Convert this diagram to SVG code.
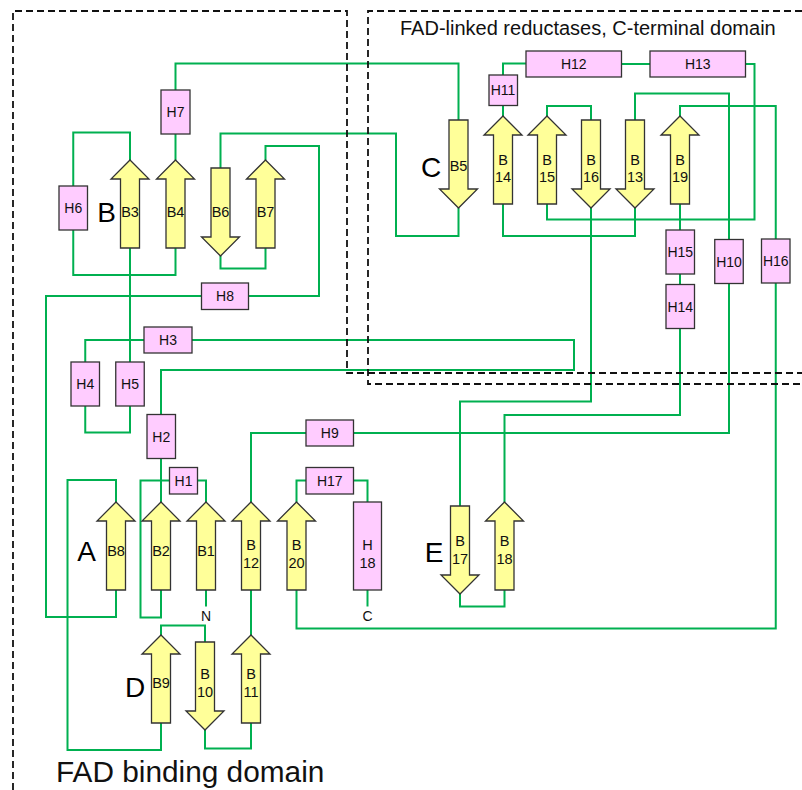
<svg xmlns="http://www.w3.org/2000/svg" xmlns:xlink="http://www.w3.org/1999/xlink" width="802" height="790" viewBox="0 0 802 790">
  <style>
    .bg { fill: #ffffff; }
    .link { fill: none; stroke: #00b050; stroke-width: 2; stroke-linejoin: miter; }
    .strand { fill: #ffff99; stroke: #333333; stroke-width: 1.3; }
    .helix { fill: #ffccff; stroke: #333333; stroke-width: 1.3; }
    .lbl { font-family: "Liberation Sans", Arial, sans-serif; font-size: 14px; fill: #111111; text-anchor: middle; }
    .slbl { font-family: "Liberation Sans", Arial, sans-serif; font-size: 14.5px; fill: #111111; text-anchor: middle; }
    .sheet { font-family: "Liberation Sans", Arial, sans-serif; font-size: 28px; fill: #000000; text-anchor: middle; }
    .domain { font-family: "Liberation Sans", Arial, sans-serif; fill: #111111; }
    .dash { fill: none; stroke: #111111; stroke-width: 1.8; stroke-dasharray: 7 4; }
  </style>
  <defs>
    <!-- strand arrows, origin at the tip (up) or at the flat end (down) -->
    <path id="up" d="M0,0 L19,19 L9.5,19 L9.5,88 L-9.5,88 L-9.5,19 L-19,19 Z"/>
    <path id="down" d="M-9.5,0 L9.5,0 L9.5,69 L19,69 L0,88 L-19,69 L-9.5,69 Z"/>
  </defs>

  <rect class="bg" x="0" y="0" width="802" height="790"/>

  <!-- loops between secondary-structure elements -->
  <g id="connectors">
    <polyline class="link" points="130,160 130,132.5 73.25,132.5 73.25,186"/>
    <polyline class="link" points="73.25,230 73.25,275 175.5,275 175.5,248"/>
    <polyline class="link" points="130,248 130,362"/>
    <polyline class="link" points="175.5,160 175.5,134"/>
    <polyline class="link" points="175.5,90 175.5,63.5 458.5,63.5 458.5,120"/>
    <polyline class="link" points="458.5,208 458.5,236 396,236 396,133.5 220.5,133.5 220.5,168"/>
    <polyline class="link" points="220.5,256 220.5,268.5 265.5,268.5 265.5,248"/>
    <polyline class="link" points="265.5,160 265.5,146 319,146 319,296 248.5,296"/>
    <polyline class="link" points="201.5,296 46,296 46,617 116,617 116,590"/>
    <polyline class="link" points="116,502 116,480 67.5,480 67.5,750 161,750 161,723"/>
    <polyline class="link" points="161,635 161,625.5 205,625.5 205,642"/>
    <polyline class="link" points="205,730 205,748.5 251,748.5 251,723"/>
    <polyline class="link" points="251,635 251,590"/>
    <polyline class="link" points="251,502 251,433 306,433"/>
    <polyline class="link" points="353.5,433 729,433 729,283.5"/>
    <polyline class="link" points="729,239.5 729,93.5 635,93.5 635,120"/>
    <polyline class="link" points="635,208 635,236 503,236 503,204"/>
    <polyline class="link" points="503,116 503,105.5"/>
    <polyline class="link" points="503,75 503,63.5 526,63.5"/>
    <polyline class="link" points="621.5,64 650,64"/>
    <polyline class="link" points="745.5,64 754.5,64 754.5,219.5 547,219.5 547,204"/>
    <polyline class="link" points="547,116 547,106 591,106 591,120"/>
    <polyline class="link" points="591,208 591,401.5 460,401.5 460,506"/>
    <polyline class="link" points="460,594 460,606.5 504.5,606.5 504.5,590"/>
    <polyline class="link" points="504.5,502 504.5,415 680,415 680,328.5"/>
    <polyline class="link" points="680,284.5 680,274"/>
    <polyline class="link" points="680,230 680,204"/>
    <polyline class="link" points="680,116 680,106 775.75,106 775.75,239"/>
    <polyline class="link" points="775.75,283 775.75,628.5 296.5,628.5 296.5,590"/>
    <polyline class="link" points="296.5,502 296.5,480.5 306,480.5"/>
    <polyline class="link" points="353.5,480.5 367.5,480.5 367.5,502"/>
    <polyline class="link" points="367.5,590 367.5,606.5"/>
    <polyline class="link" points="206,590 206,606.5"/>
    <polyline class="link" points="197.5,480.5 206,480.5 206,502"/>
    <polyline class="link" points="169.5,480.5 140.5,480.5 140.5,617.5 161,617.5 161,590"/>
    <polyline class="link" points="161,458.5 161,502"/>
    <polyline class="link" points="161,414.5 161,370 574,370 574,340 192,340"/>
    <polyline class="link" points="144,340 85.25,340 85.25,362"/>
    <polyline class="link" points="85.25,406 85.25,432.5 130,432.5 130,406"/>
  </g>

  <!-- sheet B -->
  <g id="B3"><use href="#up" class="strand" x="130" y="160"/><text class="slbl" x="130" y="217">B3</text></g>
  <g id="B4"><use href="#up" class="strand" x="175.5" y="160"/><text class="slbl" x="175.5" y="217">B4</text></g>
  <g id="B6"><use href="#down" class="strand" x="220.5" y="168"/><text class="slbl" x="220.5" y="217">B6</text></g>
  <g id="B7"><use href="#up" class="strand" x="265.5" y="160"/><text class="slbl" x="265.5" y="217">B7</text></g>

  <!-- sheet C -->
  <g id="B5"><use href="#down" class="strand" x="458.5" y="120"/><text class="slbl" x="458.5" y="171">B5</text></g>
  <g id="B14"><use href="#up" class="strand" x="503" y="116"/><text class="slbl" x="503" y="164.5">B</text><text class="slbl" x="503" y="182">14</text></g>
  <g id="B15"><use href="#up" class="strand" x="547" y="116"/><text class="slbl" x="547" y="164.5">B</text><text class="slbl" x="547" y="182">15</text></g>
  <g id="B16"><use href="#down" class="strand" x="591" y="120"/><text class="slbl" x="591" y="164.5">B</text><text class="slbl" x="591" y="182">16</text></g>
  <g id="B13"><use href="#down" class="strand" x="635" y="120"/><text class="slbl" x="635" y="164.5">B</text><text class="slbl" x="635" y="182">13</text></g>
  <g id="B19"><use href="#up" class="strand" x="680" y="116"/><text class="slbl" x="680" y="164.5">B</text><text class="slbl" x="680" y="182">19</text></g>

  <!-- sheet A -->
  <g id="B8"><use href="#up" class="strand" x="116" y="502"/><text class="slbl" x="116" y="556">B8</text></g>
  <g id="B2"><use href="#up" class="strand" x="161" y="502"/><text class="slbl" x="161" y="556">B2</text></g>
  <g id="B1"><use href="#up" class="strand" x="206" y="502"/><text class="slbl" x="206" y="556">B1</text></g>
  <g id="B12"><use href="#up" class="strand" x="251" y="502"/><text class="slbl" x="251" y="550">B</text><text class="slbl" x="251" y="568">12</text></g>
  <g id="B20"><use href="#up" class="strand" x="296.5" y="502"/><text class="slbl" x="296.5" y="550">B</text><text class="slbl" x="296.5" y="568">20</text></g>

  <!-- sheet D -->
  <g id="B9"><use href="#up" class="strand" x="161" y="635"/><text class="slbl" x="161" y="688">B9</text></g>
  <g id="B10"><use href="#down" class="strand" x="205" y="642"/><text class="slbl" x="205" y="678.5">B</text><text class="slbl" x="205" y="697">10</text></g>
  <g id="B11"><use href="#up" class="strand" x="251" y="635"/><text class="slbl" x="251" y="678.5">B</text><text class="slbl" x="251" y="697">11</text></g>

  <!-- sheet E -->
  <g id="B17"><use href="#down" class="strand" x="460" y="506"/><text class="slbl" x="460" y="546">B</text><text class="slbl" x="460" y="564">17</text></g>
  <g id="B18"><use href="#up" class="strand" x="504.5" y="502"/><text class="slbl" x="504.5" y="546">B</text><text class="slbl" x="504.5" y="564">18</text></g>

  <!-- helices -->
  <g id="H1"><rect class="helix" x="169.5" y="467.5" width="28" height="26.5"/><text class="lbl" x="183.5" y="486">H1</text></g>
  <g id="H2"><rect class="helix" x="147" y="414.5" width="28.5" height="44"/><text class="lbl" x="161.25" y="441.5">H2</text></g>
  <g id="H3"><rect class="helix" x="144" y="327" width="48" height="26"/><text class="lbl" x="168" y="345">H3</text></g>
  <g id="H4"><rect class="helix" x="71" y="362" width="28.5" height="44"/><text class="lbl" x="85.25" y="389">H4</text></g>
  <g id="H5"><rect class="helix" x="115.75" y="362" width="28.5" height="44"/><text class="lbl" x="130" y="389">H5</text></g>
  <g id="H6"><rect class="helix" x="59" y="186" width="28.5" height="44"/><text class="lbl" x="73.25" y="213">H6</text></g>
  <g id="H7"><rect class="helix" x="161" y="90" width="29" height="44"/><text class="lbl" x="175.5" y="117">H7</text></g>
  <g id="H8"><rect class="helix" x="201.5" y="283" width="47" height="26.5"/><text class="lbl" x="225" y="301">H8</text></g>
  <g id="H9"><rect class="helix" x="306" y="420" width="47.5" height="26"/><text class="lbl" x="329.75" y="438">H9</text></g>
  <g id="H10"><rect class="helix" x="714.75" y="239.5" width="28.5" height="44"/><text class="lbl" x="729" y="266.5">H10</text></g>
  <g id="H11"><rect class="helix" x="489" y="75" width="28.5" height="30.5"/><text class="lbl" x="503" y="95">H11</text></g>
  <g id="H12"><rect class="helix" x="526" y="51" width="95.5" height="26"/><text class="lbl" x="573.75" y="69">H12</text></g>
  <g id="H13"><rect class="helix" x="650" y="51" width="95.5" height="26"/><text class="lbl" x="697.75" y="69">H13</text></g>
  <g id="H14"><rect class="helix" x="666" y="284.5" width="28.5" height="44"/><text class="lbl" x="680.25" y="311.5">H14</text></g>
  <g id="H15"><rect class="helix" x="666" y="230" width="28.5" height="44"/><text class="lbl" x="680.25" y="257">H15</text></g>
  <g id="H16"><rect class="helix" x="761.5" y="239" width="28.5" height="44"/><text class="lbl" x="775.75" y="266">H16</text></g>
  <g id="H17"><rect class="helix" x="306" y="467.5" width="47.5" height="26.5"/><text class="lbl" x="329.75" y="486">H17</text></g>
  <g id="H18"><rect class="helix" x="353.5" y="502" width="28" height="88"/><text class="slbl" x="367.5" y="550">H</text><text class="slbl" x="367.5" y="568">18</text></g>

  <!-- chain termini -->
  <g id="N-term"><text class="lbl" x="206" y="621">N</text></g>
  <g id="C-term"><text class="lbl" x="367.5" y="621">C</text></g>

  <!-- sheet names -->
  <g id="sheet-labels">
    <text class="sheet" x="106.5" y="222">B</text>
    <text class="sheet" x="431" y="177">C</text>
    <text class="sheet" x="86.5" y="561">A</text>
    <text class="sheet" x="135" y="697">D</text>
    <text class="sheet" x="434" y="562">E</text>
  </g>

  <!-- domain outlines and titles -->
  <g id="domains">
    <polyline class="dash" points="13,790 13,11 347,11 347,373 802,373"/>
    <polyline class="dash" points="802,11 368,11 368,384 802,384"/>
    <text class="domain" x="400" y="35" font-size="20">FAD-linked reductases, C-terminal domain</text>
    <text class="domain" x="56" y="782" font-size="29.8">FAD binding domain</text>
  </g>
</svg>
